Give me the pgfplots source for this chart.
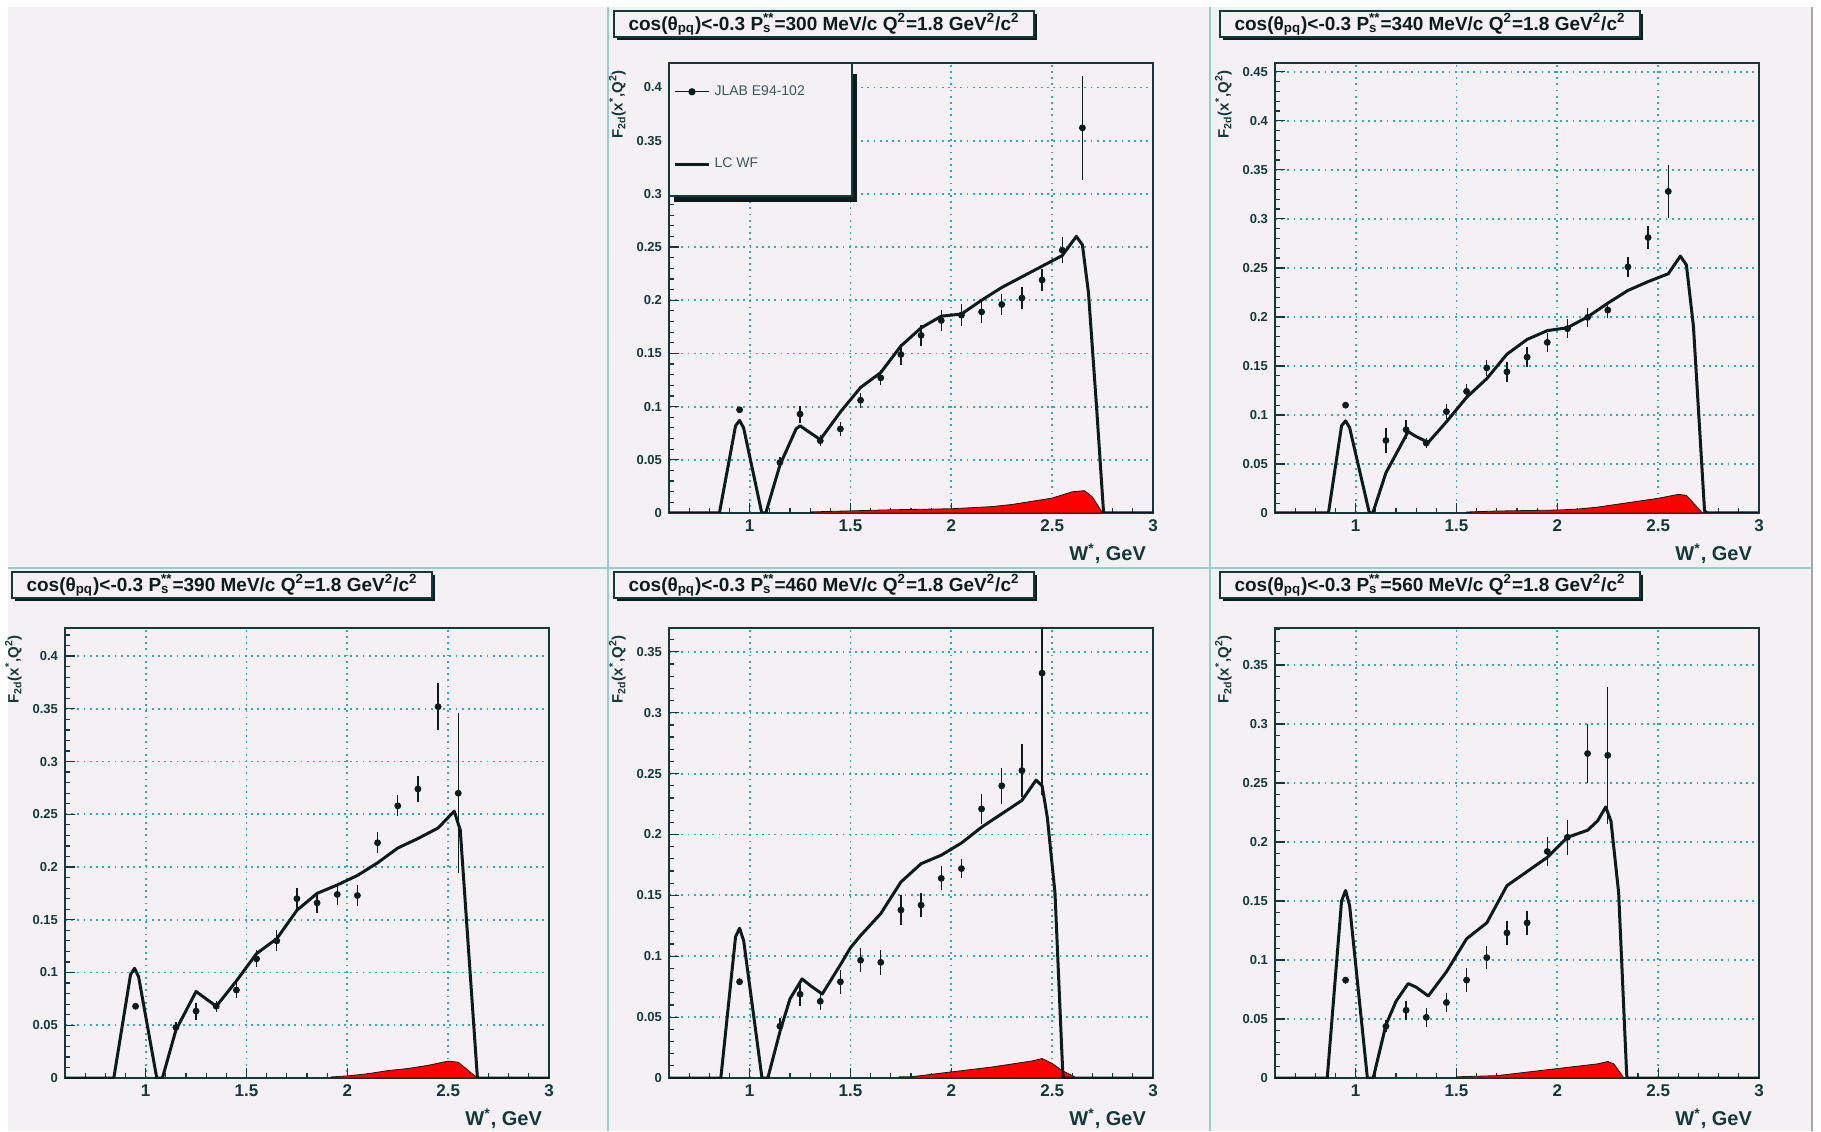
\documentclass[border=0pt]{standalone}
\usepackage{fontspec}
\setmainfont{Liberation Sans}
\usepackage{pgfplots}
\usepackage{pgfplotstable}
\pgfplotsset{compat=1.18}

\definecolor{bg}{RGB}{245,240,244}
\definecolor{frame}{RGB}{18,58,58}
\definecolor{ink}{RGB}{12,28,28}
\definecolor{gridc}{RGB}{40,175,175}
\definecolor{sepc}{RGB}{150,205,205}
\definecolor{legtext}{RGB}{55,90,90}

% ---------------- P_s = 300 MeV/c ----------------
\pgfplotstableread{
x y e
0.95 0.097 0.003
1.15 0.0475 0.005
1.25 0.093 0.008
1.35 0.068 0.005
1.45 0.079 0.007
1.55 0.106 0.007
1.65 0.127 0.007
1.75 0.149 0.010
1.85 0.167 0.010
1.95 0.181 0.010
2.05 0.186 0.010
2.15 0.189 0.010
2.25 0.196 0.010
2.35 0.202 0.010
2.45 0.219 0.010
2.55 0.247 0.012
2.65 0.362 0.049
}\ptsA
\pgfplotstableread{
x y
0.6 0
0.85 0
0.93 0.082
0.95 0.087
0.97 0.080
1.06 0
1.08 0
1.15 0.045
1.23 0.079
1.25 0.082
1.28 0.078
1.35 0.069
1.45 0.095
1.55 0.118
1.65 0.132
1.75 0.157
1.85 0.174
1.95 0.185
2.05 0.187
2.15 0.200
2.25 0.212
2.35 0.222
2.45 0.232
2.55 0.242
2.62 0.260
2.65 0.252
2.68 0.207
2.72 0.100
2.755 0
3.0 0
}\curveA
\pgfplotstableread{
x y
1.30 0
1.30 0.001
1.70 0.003
2.00 0.004
2.20 0.006
2.30 0.008
2.40 0.011
2.50 0.014
2.60 0.020
2.66 0.021
2.70 0.015
2.75 0
}\redA

% ---------------- P_s = 340 MeV/c ----------------
\pgfplotstableread{
x y e
0.95 0.110 0.003
1.15 0.074 0.013
1.25 0.085 0.010
1.35 0.0713 0.005
1.45 0.1034 0.008
1.55 0.124 0.008
1.65 0.148 0.008
1.75 0.144 0.010
1.85 0.159 0.010
1.95 0.174 0.010
2.05 0.188 0.010
2.15 0.1995 0.010
2.25 0.207 0.008
2.35 0.251 0.010
2.45 0.281 0.012
2.55 0.328 0.027
}\ptsB
\pgfplotstableread{
x y
0.6 0
0.865 0
0.93 0.089
0.95 0.094
0.97 0.087
1.068 0
1.085 0
1.15 0.041
1.2 0.060
1.26 0.083
1.3 0.078
1.36 0.072
1.45 0.093
1.55 0.118
1.65 0.137
1.75 0.162
1.85 0.177
1.95 0.186
2.05 0.189
2.15 0.200
2.25 0.214
2.35 0.227
2.45 0.236
2.55 0.244
2.61 0.262
2.64 0.253
2.675 0.190
2.73 0.002
2.745 0
3.0 0
}\curveB
\pgfplotstableread{
x y
1.55 0
1.55 0.001
1.70 0.002
2.00 0.003
2.10 0.004
2.20 0.006
2.30 0.009
2.40 0.012
2.50 0.015
2.60 0.019
2.64 0.018
2.72 0
}\redB

% ---------------- P_s = 390 MeV/c ----------------
\pgfplotstableread{
x y e
0.95 0.068 0.003
1.15 0.048 0.005
1.25 0.0634 0.008
1.35 0.068 0.005
1.45 0.0834 0.008
1.55 0.113 0.008
1.65 0.130 0.010
1.75 0.170 0.010
1.85 0.166 0.010
1.95 0.174 0.010
2.05 0.173 0.010
2.15 0.223 0.010
2.25 0.258 0.010
2.35 0.274 0.012
2.45 0.352 0.022
2.55 0.270 0.076
}\ptsC
\pgfplotstableread{
x y
0.6 0
0.842 0
0.925 0.098
0.945 0.104
0.965 0.096
1.055 0
1.083 0
1.15 0.0455
1.25 0.082
1.35 0.068
1.45 0.092
1.55 0.118
1.65 0.132
1.75 0.159
1.85 0.175
1.95 0.183
2.05 0.192
2.15 0.204
2.25 0.218
2.35 0.227
2.45 0.237
2.53 0.253
2.56 0.235
2.645 0
3.0 0
}\curveC
\pgfplotstableread{
x y
1.92 0
1.92 0.001
2.00 0.002
2.10 0.004
2.20 0.007
2.30 0.009
2.40 0.012
2.50 0.016
2.55 0.015
2.645 0
}\redC

% ---------------- P_s = 460 MeV/c ----------------
\pgfplotstableread{
x y e
0.95 0.079 0.003
1.15 0.0425 0.007
1.25 0.0688 0.010
1.35 0.063 0.007
1.45 0.079 0.010
1.55 0.0967 0.010
1.65 0.095 0.010
1.75 0.138 0.012
1.85 0.142 0.010
1.95 0.164 0.010
2.05 0.172 0.008
2.15 0.221 0.012
2.25 0.240 0.015
2.35 0.2525 0.022
2.45 0.3325 0.100
}\ptsD
\pgfplotstableread{
x y
0.6 0
0.857 0
0.93 0.116
0.95 0.123
0.97 0.113
1.061 0
1.09 0
1.15 0.038
1.2 0.065
1.26 0.0814
1.3 0.076
1.36 0.069
1.45 0.093
1.5 0.107
1.55 0.117
1.65 0.135
1.75 0.161
1.85 0.176
1.95 0.183
2.05 0.193
2.15 0.206
2.25 0.217
2.35 0.228
2.42 0.2446
2.45 0.240
2.476 0.214
2.514 0.152
2.552 0.006
2.555 0
3.0 0
}\curveD
\pgfplotstableread{
x y
1.74 0
1.74 0.001
1.80 0.001
2.00 0.005
2.20 0.009
2.40 0.014
2.45 0.016
2.50 0.012
2.55 0.006
2.60 0.002
2.62 0
}\redD

% ---------------- P_s = 560 MeV/c ----------------
\pgfplotstableread{
x y e
0.95 0.083 0.003
1.15 0.0438 0.005
1.25 0.0574 0.008
1.35 0.0514 0.008
1.45 0.064 0.008
1.55 0.083 0.010
1.65 0.102 0.010
1.75 0.123 0.010
1.85 0.1315 0.010
1.95 0.192 0.012
2.05 0.204 0.015
2.15 0.275 0.025
2.25 0.2735 0.058
}\ptsE
\pgfplotstableread{
x y
0.6 0
0.859 0
0.93 0.150
0.95 0.159
0.97 0.146
1.058 0
1.087 0
1.15 0.045
1.2 0.065
1.26 0.080
1.3 0.077
1.36 0.0695
1.45 0.090
1.55 0.118
1.65 0.1315
1.75 0.163
1.85 0.175
1.95 0.187
2.05 0.204
2.15 0.210
2.2 0.218
2.24 0.2297
2.266 0.2176
2.304 0.157
2.343 0.006
2.345 0
3.0 0
}\curveE
\pgfplotstableread{
x y
1.50 0
1.50 0.001
1.70 0.002
1.90 0.006
2.00 0.008
2.10 0.010
2.20 0.012
2.25 0.014
2.28 0.012
2.33 0
}\redE

\pgfplotsset{
  rootpad/.style={
    scale only axis, width=242pt, height=225pt,
    xmin=0.6, xmax=3, ymin=0,
    axis background/.style={fill=bg},
    axis line style={draw=frame, line width=0.9pt},
    tick pos=left, tick align=inside,
    xtick={1,1.5,2,2.5,3},
    minor xtick={0.6,0.7,...,2.95},
    ytick distance=0.05,
    minor ytick={0,0.01,...,0.455},
    major tick length=5pt, minor tick length=2.5pt,
    every tick/.style={draw=frame, line width=0.6pt},
    grid=major,
    major grid style={draw=gridc, line width=0.9pt, dash pattern=on 0.9pt off 2.2pt},
    /pgf/number format/assume math mode=true,
    xticklabel style={font=\bfseries\fontsize{8.5}{9}\selectfont, text=frame},
    yticklabel style={font=\bfseries\fontsize{6.5}{7}\selectfont, text=frame,
      /pgf/number format/fixed, /pgf/number format/precision=2},
    xlabel={W\textsuperscript{*}, GeV},
    xlabel style={at={(axis description cs:1,0)}, anchor=north east, yshift=-12pt,
      font=\bfseries\fontsize{10}{12}\selectfont, text=frame},
    ylabel={F\textsubscript{2d}(x\textsuperscript{*},Q\textsuperscript{2})},
    ylabel style={at={(axis description cs:-0.075,1)}, anchor=south east,
      font=\bfseries\fontsize{7.5}{8}\selectfont, text=frame},
  },
  datapts/.style={only marks, mark=*, mark size=1.5pt, color=ink,
    error bars/y dir=both, error bars/y explicit, error bars/error mark=none,
    error bars/error bar style={line width=0.7pt, color=ink}},
  % legend symbol: line with a dot in the middle
  dotline legend/.style={legend image code/.code={%
      \draw[mark repeat=2, mark phase=2, ##1, sharp plot, line width=0.6pt]
        plot coordinates {(0cm,0cm) (0.3cm,0cm) (0.6cm,0cm)};}},
  lcwf/.style={color=ink, line width=1.5pt, line join=round},
  bkgfill/.style={fill=red, draw=ink, line width=0.4pt, forget plot},
}

% boxed panel title with a solid drop shadow; #1,#2 = top-left corner in pt
\newcommand\ptitle[3]{%
  \begin{scope}[shift={(#1pt,#2pt)}]
    \fill[ink] (1.5pt,-14.5pt) rectangle (211.5pt,-1.5pt);
    \filldraw[fill=bg, draw=frame, line width=0.6pt] (0,-13pt) rectangle (210pt,0);
    \node[font=\bfseries\fontsize{9.5}{11}\selectfont, text=ink, inner sep=0pt]
      at (105pt,-6.5pt)
      {cos(θ\textsubscript{pq})<-0.3 P\rlap{\textsubscript{s}}\textsuperscript{**}=#3 MeV/c Q\textsuperscript{2}=1.8 GeV\textsuperscript{2}/c\textsuperscript{2}};
  \end{scope}}

\begin{document}
\begin{tikzpicture}
\useasboundingbox (0,0) rectangle (910.5pt,565.5pt);
\fill[white] (0,0) rectangle (910.5pt,565.5pt);
\fill[bg] (4pt,0) rectangle (906pt,562pt);
\draw[sepc, line width=1pt] (304pt,0) -- (304pt,562pt);
\draw[sepc, line width=1pt] (605pt,0) -- (605pt,562pt);
\draw[sepc, line width=1pt] (4pt,281.5pt) -- (906pt,281.5pt);
\draw[gray!70, line width=1.2pt] (906pt,0) -- (906pt,562pt);

% top row, middle: 300 MeV/c with legend
\begin{axis}[rootpad, at={(334.5pt,309pt)}, anchor=south west, ymax=0.423,
  reverse legend,
  legend style={at={(axis description cs:0,1)}, anchor=north west, draw=none, fill=none,
    inner xsep=2pt, inner ysep=9pt, row sep=26pt,
    font=\fontsize{7}{8}\selectfont, text=legtext},
  legend cell align=left]
  \fill[ink] (axis description cs:0.01,0.69) rectangle (axis description cs:0.388,0.975);
  \filldraw[fill=bg, draw=frame, line width=0.6pt]
    (axis description cs:0,0.7044) rectangle (axis description cs:0.378,1);
  \addplot[bkgfill] table {\redA} \closedcycle;
  \addplot[lcwf] table {\curveA};
  \addlegendentry{LC WF}
  \addplot[datapts, dotline legend] table[x=x, y=y, y error=e] {\ptsA};
  \addlegendentry{JLAB E94-102}
\end{axis}

% top row, right: 340 MeV/c
\begin{axis}[rootpad, at={(637.5pt,309pt)}, anchor=south west, ymax=0.459]
  \addplot[bkgfill] table {\redB} \closedcycle;
  \addplot[lcwf] table {\curveB};
  \addplot[datapts] table[x=x, y=y, y error=e] {\ptsB};
\end{axis}

% bottom row, left: 390 MeV/c
\begin{axis}[rootpad, at={(32.5pt,26.5pt)}, anchor=south west, ymax=0.4266]
  \addplot[bkgfill] table {\redC} \closedcycle;
  \addplot[lcwf] table {\curveC};
  \addplot[datapts] table[x=x, y=y, y error=e] {\ptsC};
\end{axis}

% bottom row, middle: 460 MeV/c
\begin{axis}[rootpad, at={(334.5pt,26.5pt)}, anchor=south west, ymax=0.3696]
  \addplot[bkgfill] table {\redD} \closedcycle;
  \addplot[lcwf] table {\curveD};
  \addplot[datapts] table[x=x, y=y, y error=e] {\ptsD};
\end{axis}

% bottom row, right: 560 MeV/c
\begin{axis}[rootpad, at={(637.5pt,26.5pt)}, anchor=south west, ymax=0.3814]
  \addplot[bkgfill] table {\redE} \closedcycle;
  \addplot[lcwf] table {\curveE};
  \addplot[datapts] table[x=x, y=y, y error=e] {\ptsE};
\end{axis}

\ptitle{307}{560}{300}
\ptitle{610}{560}{340}
\ptitle{6}{279.5}{390}
\ptitle{307}{279.5}{460}
\ptitle{610}{279.5}{560}
\end{tikzpicture}
\end{document}
